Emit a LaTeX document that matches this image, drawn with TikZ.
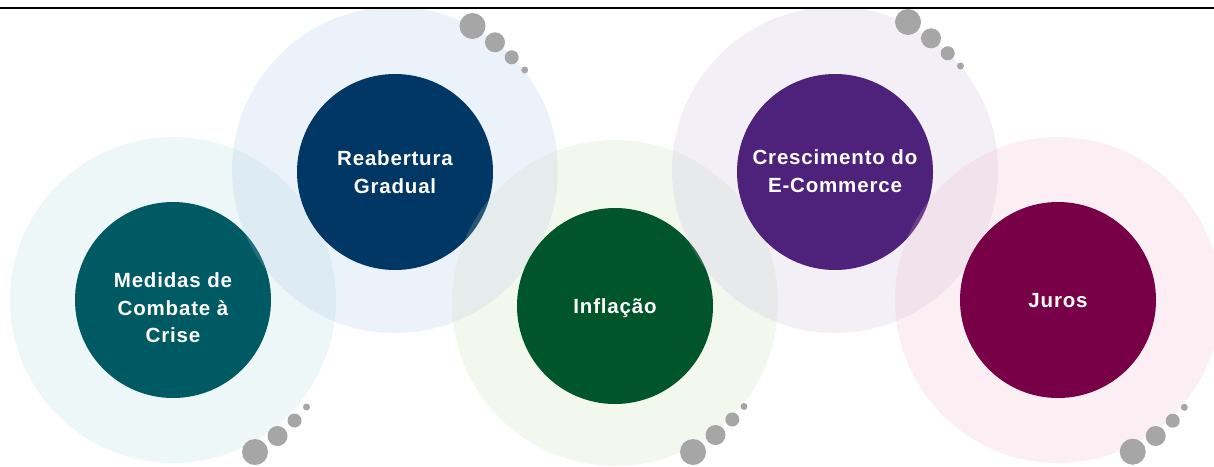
\documentclass[tikz,border=0pt]{standalone}
\usepackage{fontspec}
\setmainfont{Liberation Sans}[LetterSpace=4]
\definecolor{tealD}{RGB}{0,90,100}
\definecolor{navyD}{RGB}{0,55,100}
\definecolor{greenD}{RGB}{0,85,42}
\definecolor{purpD}{RGB}{78,34,122}
\definecolor{maroD}{RGB}{120,0,70}
\definecolor{tealL}{RGB}{165,215,215}
\definecolor{navyL}{RGB}{160,190,230}
\definecolor{greenL}{RGB}{195,220,175}
\definecolor{purpL}{RGB}{190,175,215}
\definecolor{maroL}{RGB}{240,175,195}
\definecolor{dotG}{RGB}{166,166,166}
\tikzset{
  halo/.style={circle, minimum size=326pt, inner sep=0pt, fill opacity=0.2},
  core/.style={circle, minimum size=196pt, inner sep=0pt},
  lbl/.style={text=white, align=center, font=\fontsize{20.5}{27.5}\selectfont\bfseries},
  dotc/.style={fill=dotG, draw=none},
}
\begin{document}
\begin{tikzpicture}[x=1pt,y=-1pt]
\useasboundingbox (0,0) rectangle (1214,466);
\clip (0,0) rectangle (1214,466);
% group 1
\node[halo, fill=tealL] (h1) at (173,300) {};
\node[core, fill=tealD] (c1) at (173,300) {};
\node[lbl] (t1) at (173,308) {Medidas de\\Combate à\\Crise};
% group 2
\node[halo, fill=navyL] (h2) at (395,170) {};
\node[core, fill=navyD] (c2) at (395,172) {};
\node[lbl] (t2) at (395,172) {Reabertura\\Gradual};
% group 3
\node[halo, fill=greenL] (h3) at (615,303) {};
\node[core, fill=greenD] (c3) at (615,306) {};
\node[lbl] (t3) at (615,308) {Inflação};
% group 4
\node[halo, fill=purpL] (h4) at (835,170) {};
\node[core, fill=purpD] (c4) at (835,172) {};
\node[lbl] (t4) at (835,171) {Crescimento do\\E-Commerce};
% group 5
\node[halo, fill=maroL] (h5) at (1058,300) {};
\node[core, fill=maroD] (c5) at (1058,300) {};
\node[lbl] (t5) at (1058,301) {Juros};
% dots bottom-left group 1
\fill[dotc] (255,452) circle (13);
\fill[dotc] (277.5,436) circle (10);
\fill[dotc] (294.5,420.5) circle (7);
\fill[dotc] (306.5,407) circle (3.5);
% dots top group 2
\fill[dotc] (472.5,26) circle (13);
\fill[dotc] (495,42.3) circle (10);
\fill[dotc] (511.7,57.3) circle (7);
\fill[dotc] (524.7,70) circle (3.5);
% dots bottom group 3
\fill[dotc] (693,452) circle (13);
\fill[dotc] (715.5,435) circle (10);
\fill[dotc] (732.3,419.5) circle (7);
\fill[dotc] (744,406.5) circle (3.5);
% dots top group 4
\fill[dotc] (908,22) circle (13);
\fill[dotc] (931,38.3) circle (10);
\fill[dotc] (947.7,53.3) circle (7);
\fill[dotc] (960.5,66) circle (3.5);
% dots bottom group 5
\fill[dotc] (1132.7,451.7) circle (13);
\fill[dotc] (1155.7,436) circle (10);
\fill[dotc] (1172.7,420.7) circle (7);
\fill[dotc] (1184.3,407.3) circle (3.5);
% top rule
\draw[line width=2pt] (0,7.7) -- (1214,7.7);
\end{tikzpicture}
\end{document}
